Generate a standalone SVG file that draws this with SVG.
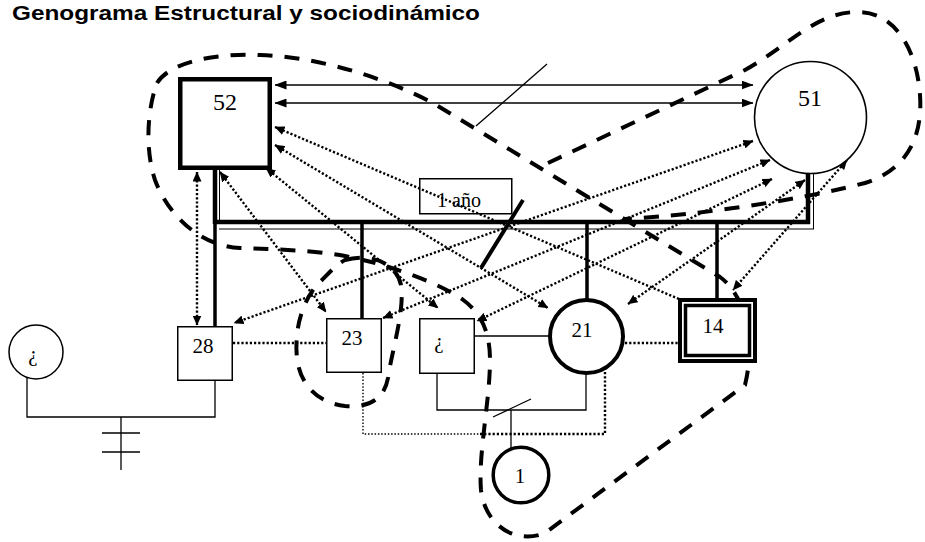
<svg xmlns="http://www.w3.org/2000/svg" width="925" height="542" viewBox="0 0 925 542">
<defs>
<style>
.t{font-family:"Liberation Serif","Times New Roman",serif;fill:#000;text-anchor:middle}
.title{font-family:"Liberation Sans",Arial,sans-serif;font-weight:bold;font-size:20px;fill:#000}
.thin{stroke:#000;stroke-width:1.3;fill:none}
.thick{stroke:#000;stroke-width:4.5;fill:none}
.drop{stroke:#000;stroke-width:3.5;fill:none}
.dot{stroke:#000;stroke-width:2.4;stroke-dasharray:2.2 2;fill:none}
.dotthin{stroke:#000;stroke-width:1.4;stroke-dasharray:1.5 1.8;fill:none}
.dash{stroke:#000;stroke-width:4;stroke-dasharray:15 12;fill:none}
.a1{marker-end:url(#ah)}
.a2{marker-start:url(#ah);marker-end:url(#ah)}
.s2{marker-start:url(#sh);marker-end:url(#sh)}
.box{fill:#fff;stroke:#000;stroke-width:1.5}
</style>
<marker id="ah" viewBox="0 0 10 9" refX="9.5" refY="4.5" markerWidth="10" markerHeight="9" markerUnits="userSpaceOnUse" orient="auto-start-reverse"><path d="M0,0 L10,4.5 L0,9 Z" fill="#000"/></marker>
<marker id="sh" viewBox="0 0 12 9" refX="11.5" refY="4.5" markerWidth="12" markerHeight="9" markerUnits="userSpaceOnUse" orient="auto-start-reverse"><path d="M0,0 L12,4.5 L0,9 Z" fill="#000"/></marker>
</defs>
<rect width="925" height="542" fill="#fff"/>
<text class="title" x="12" y="20" textLength="468" lengthAdjust="spacingAndGlyphs">Genograma Estructural y sociodinámico</text>

<g id="connectors">
  <!-- solid double arrows 52 <-> 51 -->
  <line class="thin s2" x1="275" y1="85" x2="753" y2="85"/>
  <line class="thin s2" x1="275" y1="103" x2="753" y2="103"/>
  <line class="thin" x1="547" y1="64" x2="476" y2="126"/>
  <!-- sibling line -->
  <line class="thick" x1="213" y1="222" x2="810" y2="222"/>
  <line stroke="#000" stroke-width="1" x1="219" y1="229" x2="814" y2="229"/>
  <line class="thick" x1="215" y1="168" x2="215" y2="224"/>
  <line stroke="#000" stroke-width="1" x1="219.5" y1="170" x2="219.5" y2="222"/>
  <line class="thick" x1="808" y1="172" x2="808" y2="224"/>
  <line stroke="#000" stroke-width="1" x1="813.5" y1="174" x2="813.5" y2="229"/>
  <!-- drops -->
  <line class="drop" x1="215" y1="222" x2="215" y2="327"/>
  <line class="drop" x1="362" y1="222" x2="362" y2="319"/>
  <line class="drop" x1="587" y1="222" x2="587" y2="299"/>
  <line class="drop" x1="717" y1="222" x2="717" y2="299"/>
  <!-- marriage ¿ - 28 -->
  <polyline class="thin" points="27,378 27,417 215,417 215,381"/>
  <line class="thin" x1="121" y1="417" x2="121" y2="470"/>
  <line class="thin" x1="102" y1="433" x2="140" y2="433"/>
  <line class="thin" x1="102" y1="452" x2="140" y2="452"/>
  <!-- marriage ¿ - 21 -->
  <polyline class="thin" points="437,374 437,410 586,410 586,374"/>
  <line class="thin" x1="493" y1="417" x2="531" y2="399"/>
  <line class="thin" x1="511" y1="410" x2="511" y2="448"/>
  <line class="thin" x1="475" y1="336" x2="549" y2="336"/>
  <!-- dotted relations -->
  <line class="dot" x1="233" y1="343" x2="326" y2="343"/>
  <line class="dot" x1="625" y1="343" x2="678" y2="343"/>
  <polyline class="dotthin" points="363,373 363,434 480,434"/>
  <polyline class="dot" points="480,434 605,434 605,369"/>
  <line class="dot a2" x1="197" y1="172" x2="197" y2="325"/>
  <line class="dot a2" x1="220" y1="172" x2="326" y2="312"/>
  <line class="dot a2" x1="266" y1="168" x2="438" y2="308"/>
  <line class="dot a2" x1="275" y1="145" x2="548" y2="308"/>
  <line class="dot" x1="275" y1="127" x2="679" y2="299" marker-start="url(#ah)"/>
  <line class="dot a2" x1="753" y1="141" x2="234" y2="323"/>
  <line class="dot a2" x1="770" y1="160" x2="383" y2="318"/>
  <line class="dot a2" x1="772" y1="179" x2="477" y2="321"/>
  <line class="dot a2" x1="805" y1="180" x2="628" y2="304"/>
  <line class="dot a2" x1="847" y1="160" x2="733" y2="290"/>
  <!-- thick slash -->
  <line stroke="#000" stroke-width="4" x1="523" y1="200" x2="481" y2="268"/>
  <!-- dashed boundaries -->
  <path class="dash" d="M 157 83 C 170 62, 215 53, 260 55 C 320 57, 385 78, 433 103 L 720 277 C 745 295, 756 340, 745 385 L 545 533 C 515 545, 485 525, 481 490 C 478 455, 490 400, 490 360 C 490 330, 480 312, 462 299 C 440 284, 395 266, 345 256 C 310 250, 270 249, 240 248 C 200 246, 168 215, 155 180 C 145 150, 147 110, 157 83 Z"/>
  <path class="dash" d="M 345 260 C 370 253, 396 262, 401 285 C 405 310, 392 350, 388 378 C 384 400, 368 408, 345 406 C 318 403, 300 385, 297 358 C 294 330, 302 298, 322 280 C 330 272, 337 264, 345 260 Z"/>
  <path class="dash" d="M 548 163 L 745 70 C 790 45, 815 12, 858 12 C 895 12, 917 50, 920 95 C 923 140, 905 170, 865 183 C 800 200, 700 215, 625 219"/>
</g>

<g id="label-1-ano">
  <rect x="419.75" y="178.75" width="92" height="35" fill="none" stroke="#000" stroke-width="1.5"/>
  <text class="t" x="437" y="207" font-size="20" style="text-anchor:start">1 año</text>
</g>

<g id="n52">
  <rect x="180.25" y="79.25" width="89.5" height="88.5" fill="#fff" stroke="#000" stroke-width="4.5"/>
  <text class="t" x="225" y="110" font-size="24">52</text>
</g>
<g id="n51">
  <circle cx="810.5" cy="117.5" r="56" fill="#fff" stroke="#000" stroke-width="1.6"/>
  <text class="t" x="810" y="106" font-size="24">51</text>
</g>
<g id="n28">
  <rect x="177.75" y="326.75" width="54.5" height="53.5" class="box"/>
  <text class="t" x="203" y="353" font-size="21">28</text>
</g>
<g id="n23">
  <rect x="326.75" y="318.75" width="54.5" height="53.5" class="box"/>
  <text class="t" x="352" y="345" font-size="21">23</text>
</g>
<g id="nq">
  <rect x="419.75" y="318.75" width="54.5" height="54.5" class="box"/>
  <text class="t" x="439" y="348" font-size="21">¿</text>
</g>
<g id="n21">
  <circle cx="586.5" cy="336.5" r="36.5" fill="#fff" stroke="#000" stroke-width="4"/>
  <text class="t" x="582" y="337" font-size="21">21</text>
</g>
<g id="n14">
  <rect x="680" y="300" width="75" height="61" fill="#fff" stroke="#000" stroke-width="4"/>
  <rect x="685.5" y="305.5" width="64" height="50" fill="#fff" stroke="#000" stroke-width="3.5"/>
  <text class="t" x="713" y="333" font-size="21">14</text>
</g>
<g id="n1">
  <circle cx="521" cy="475" r="27.8" fill="#fff" stroke="#000" stroke-width="3.5"/>
  <text class="t" x="520" y="483" font-size="21">1</text>
</g>
<g id="nqc">
  <circle cx="36" cy="352" r="27" fill="#fff" stroke="#000" stroke-width="1.5"/>
  <text class="t" x="33" y="361" font-size="21">¿</text>
</g>
</svg>
